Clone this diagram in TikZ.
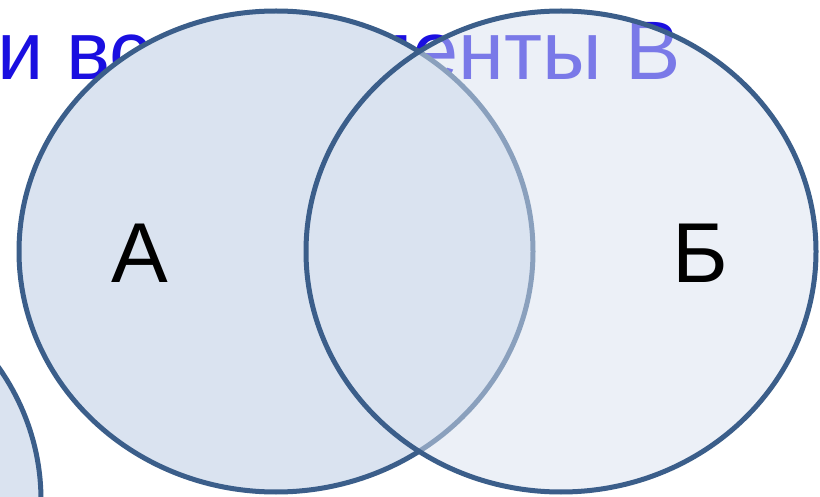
\documentclass[tikz,border=0pt]{standalone}
\usepackage{fontspec}
\setmainfont{Liberation Sans}
\definecolor{vfill}{HTML}{DAE3F0}
\definecolor{vline}{HTML}{3B5E8A}
\definecolor{ttl}{HTML}{1A0FE0}
\tikzset{
  setA/.style={draw=vline, fill=vfill, line width=5pt},
  setB/.style={draw=vline, fill=vfill, fill opacity=0.5, draw opacity=1, line width=5pt},
  lbl/.style={inner sep=0pt, font=\fontsize{85}{90}\selectfont}
}
\begin{document}
\begin{tikzpicture}[x=1pt,y=-1pt]
\useasboundingbox (0,0) rectangle (820,497);
\clip (0,0) rectangle (820,497);
\fill[white] (0,0) rectangle (820,497);
\node[anchor=base east, inner sep=0pt, text=ttl, font=\fontsize{83}{90}\selectfont] (title) at (681,80) {и все элементы В};
\draw[setA] (-215,500) ellipse [x radius=256, y radius=240.5];
\draw[setA] (276,251.5) ellipse [x radius=257, y radius=240.5];
\draw[setB] (561,251.5) ellipse [x radius=255, y radius=240.5];
\node[lbl, anchor=base] (a) at (140,283) {А};
\node[lbl, anchor=base] (b) at (700,283) {Б};
\end{tikzpicture}
\end{document}
